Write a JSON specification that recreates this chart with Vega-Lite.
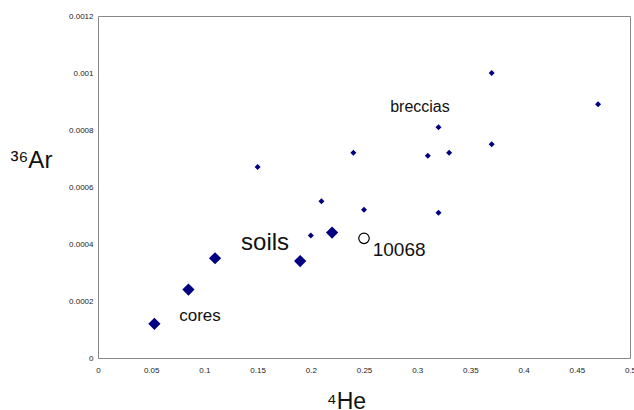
{
  "$schema": "https://vega.github.io/schema/vega-lite/v6.json",
  "width": 532,
  "height": 342,
  "autosize": {"type": "none"},
  "padding": {"left": 98, "top": 16, "right": 4, "bottom": 52},
  "background": "white",
  "config": {
    "font": "Liberation Sans",
    "view": {"stroke": "#888888", "strokeWidth": 1}
  },
  "datasets": {
    "pts": [
      {"he": 0.053, "ar": 0.00012, "kind": "large"},
      {"he": 0.085, "ar": 0.00024, "kind": "large"},
      {"he": 0.11, "ar": 0.00035, "kind": "large"},
      {"he": 0.19, "ar": 0.00034, "kind": "large"},
      {"he": 0.22, "ar": 0.00044, "kind": "large"},
      {"he": 0.15, "ar": 0.00067, "kind": "small"},
      {"he": 0.21, "ar": 0.00055, "kind": "small"},
      {"he": 0.2, "ar": 0.00043, "kind": "small"},
      {"he": 0.24, "ar": 0.00072, "kind": "small"},
      {"he": 0.25, "ar": 0.00052, "kind": "small"},
      {"he": 0.37, "ar": 0.001, "kind": "small"},
      {"he": 0.47, "ar": 0.00089, "kind": "small"},
      {"he": 0.32, "ar": 0.00081, "kind": "small"},
      {"he": 0.33, "ar": 0.00072, "kind": "small"},
      {"he": 0.31, "ar": 0.00071, "kind": "small"},
      {"he": 0.37, "ar": 0.00075, "kind": "small"},
      {"he": 0.32, "ar": 0.00051, "kind": "small"},
      {"he": 0.25, "ar": 0.00042, "kind": "open"}
    ],
    "labels": [
      {"he": 0.3026, "ar": 0.00088, "label": "breccias", "fs": 16},
      {"he": 0.157, "ar": 0.000404, "label": "soils", "fs": 24},
      {"he": 0.0959, "ar": 0.000147, "label": "cores", "fs": 17},
      {"he": 0.283, "ar": 0.000379, "label": "10068", "fs": 19}
    ]
  },
  "encoding": {
    "x": {
      "field": "he",
      "type": "quantitative",
      "scale": {"domain": [0, 0.5], "nice": false},
      "axis": {
        "values": [0, 0.05, 0.1, 0.15, 0.2, 0.25, 0.3, 0.35, 0.4, 0.45, 0.5],
        "labelExpr": "datum.value === 0 ? '0' : format(datum.value, '.2~f')",
        "grid": false,
        "ticks": false,
        "domain": false,
        "labelFontSize": 8,
        "labelColor": "#222222",
        "labelPadding": 8,
        "labelFlush": false,
        "labelOverlap": false,
        "title": "⁴He",
        "titleFontSize": 23,
        "titleFontWeight": "normal",
        "titleColor": "#111111",
        "titleX": 248,
        "titleY": 43,
        "titleBaseline": "middle",
        "titleAlign": "center"
      }
    },
    "y": {
      "field": "ar",
      "type": "quantitative",
      "scale": {"domain": [0, 0.0012], "nice": false},
      "axis": {
        "values": [0, 0.0002, 0.0004, 0.0006, 0.0008, 0.001, 0.0012],
        "labelExpr": "datum.value === 0 ? '0' : format(datum.value, '.4~f')",
        "grid": false,
        "ticks": false,
        "domain": false,
        "labelFontSize": 8,
        "labelColor": "#222222",
        "labelPadding": 5,
        "labelFlush": false,
        "labelOverlap": false,
        "title": "³⁶Ar",
        "titleFontSize": 24,
        "titleFontWeight": "normal",
        "titleColor": "#111111",
        "titleAngle": 0,
        "titleAlign": "left",
        "titleBaseline": "middle",
        "titleX": -88,
        "titleY": 144
      }
    }
  },
  "layer": [
    {
      "data": {"name": "pts"},
      "transform": [{"filter": "datum.kind === 'large'"}],
      "mark": {"type": "point", "shape": "diamond", "filled": true, "color": "#000080", "size": 150, "opacity": 1}
    },
    {
      "data": {"name": "pts"},
      "transform": [{"filter": "datum.kind === 'small'"}],
      "mark": {"type": "point", "shape": "diamond", "filled": true, "color": "#000080", "size": 36, "opacity": 1}
    },
    {
      "data": {"name": "pts"},
      "transform": [{"filter": "datum.kind === 'open'"}],
      "mark": {"type": "point", "shape": "circle", "filled": false, "stroke": "#000000", "strokeWidth": 1.2, "size": 110, "opacity": 1}
    },
    {
      "data": {"name": "labels"},
      "mark": {"type": "text", "align": "center", "baseline": "middle", "color": "#111111"},
      "encoding": {
        "text": {"field": "label"},
        "size": {"field": "fs", "type": "quantitative", "scale": null}
      }
    }
  ]
}
